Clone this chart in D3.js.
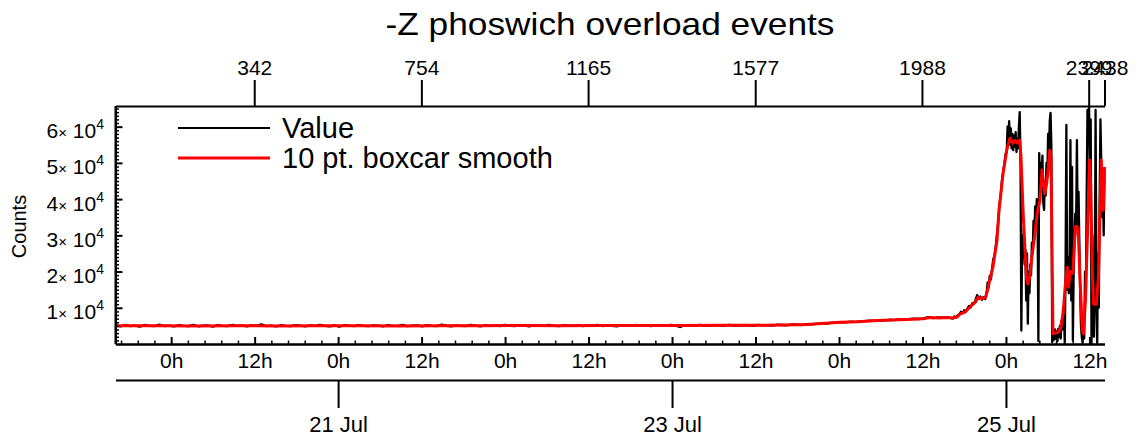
<!DOCTYPE html>
<html><head><meta charset="utf-8">
<script src="https://cdn.jsdelivr.net/npm/d3@7"></script>
<style>
body{margin:0;background:#fff}
svg{display:block}
text{font-family:"Liberation Sans",Arial,Helvetica,sans-serif;fill:#000}
</style>
</head><body><svg id="c" width="1137" height="440"></svg>
<script>
// ---------------- data ----------------
const title = "-Z phoswich overload events";
const yLabel = "Counts";
const legendLabels = ["Value", "10 pt. boxcar smooth"];
const seriesColors = ["#000000", "#ff0000"];
const lastIndex = 2438;
const startTime = "2023-07-19T16:00:00Z";
const endTime = "2023-07-25T14:10:00Z";
const topTickIndex = [342, 754, 1165, 1577, 1988, 2399, 2438];
const yTickValues = [10000, 20000, 30000, 40000, 50000, 60000];
const yMax = 65700;
const dateTicks = ["2023-07-21", "2023-07-23", "2023-07-25"];

// raw values, early part sampled every 12th index
const coarseStep = 12;
const coarseCounts = [
 5120,4880,5210,4960,5080,4790,5250,5010,4920,5340,4970,5100,
 4850,5180,5020,4940,5290,4900,5060,5150,4810,5200,5000,4930,
 5270,4980,5090,4860,5160,5030,5420,4950,5080,4890,5190,5010,
 4940,5230,5060,4870,5140,4990,5310,5020,4900,5110,4780,5180,
 5050,4960,5240,5000,4910,5170,5060,4850,5200,5030,4980,5290,
 4920,5080,5130,4870,5210,5010,4950,5360,5040,4900,5150,5020,
 4970,5250,5080,4890,5180,5000,5120,4930,5270,5040,4960,5140,
 5060,4880,5220,5110,4990,5300,5050,4940,5170,5080,5010,5230,
 4920,5140,5060,5280,4970,5110,5040,4890,5200,5090,5000,5250,
 5030,5150,4960,5220,5080,5010,5310,5060,4700,5180,5100,5020,
 5270,5090,4980,5200,5130,5040,5290,5110,5060,5230,5150,5020,
 5260,5140,5210,5100,5320,5240,5180,5390,5310,5250,5480,5400,
 5560,5700,5620,5850,5930,6050,5980,6150,6080,6260,6330,6450,
 6380,6560,6500,6690,6600,6780,6720,6850,6980,6900,7060,7400,
 7150,7320,7250,7380
];
// raw values, late part
const fineIdx = [
 2064,2068,2072,2076,2080,2084,2088,2092,2096,2100,2104,2108,2112,2116,2120,2124,2128,2132,2136,2140,
 2144,2148,2150,2152,2155,2158,2161,2164,2167,2170,2173,2176,2179,2182,2185,2188,2191,2194,2197,2199,
 2201,2203,2205,2207,2209,2211,2213,2215,2217,2219,2221,2223,2225,2227,2229,2231,2233,2235,2237,2239,
 2241,2243,2245,2247,2249,2251,2253,2255,2257,2259,2261,2263,2265,2267,2269,2271,2273,2275,2277,2279,
 2281,2283,2285,2287,2289,2291,2293,2295,2297,2299,2301,2303,2305,2307,2309,2312,2314,2316,2318,2320,
 2322,2324,2326,2328,2330,2332,2334,2336,2338,2340,2342,2344,2346,2348,2350,2352,2354,2356,2358,2360,
 2362,2364,2366,2368,2370,2372,2374,2376,2378,2380,2382,2384,2386,2388,2390,2392,2394,2396,2398,2400,
 2402,2404,2406,2408,2410,2412,2414,2416,2418,2420,2422,2424,2426,2428,2430,2432,2434,2436,2438
];
const fineCounts = [
 7000,7600,7300,7900,8200,8900,8500,9300,9000,9800,10500,10100,11300,11000,12200,13500,12600,13100,12200,13000,
 12400,14800,17000,15500,18800,17800,21000,23500,24500,27000,30500,33500,38500,41000,45000,47500,49500,52500,53000,60000,
 57000,61500,55000,59500,54000,58000,53500,57500,54500,58500,53000,56500,54000,60000,64000,50000,3700,30000,24000,32000,
 22000,26000,12000,25000,5600,20000,14000,22000,19000,28000,25000,34000,29000,38000,33000,40000,37000,800,52700,44000,
 50000,46000,52000,39000,37000,45000,41000,50000,46000,58000,52000,61500,63800,55000,500,2500,1200,4000,1500,3500,
 800,4200,2000,5000,1500,6500,4000,10000,8000,300,20000,60500,15000,24000,14000,22000,56300,12000,48900,1000,
 20000,30000,36000,33000,56300,30000,42000,28000,14000,5000,2000,300,8000,1500,20000,12000,40000,64600,55000,65500,
 45000,62000,200,30000,15000,2000,12000,64600,20000,300,25000,10000,40000,62000,50000,35000,45000,30000,48000
];
// 10 pt boxcar smooth
const smoothIdx = [
 0,100,200,300,400,500,600,700,800,900,1000,1100,1200,1300,1400,1500,1600,1650,1704,1750,
 1786,1830,1867,1910,1950,1990,2008,2030,2050,2064,2075,2082,2094,2101,2107,2114,2120,2126,2135,2145,
 2150,2155,2163,2168,2173,2178,2183,2188,2197,2205,2212,2218,2222,2229,2232,2234,2238,2242,2246,2249,
 2253,2259,2266,2272,2279,2284,2291,2295,2299,2303,2306,2311,2316,2323,2330,2336,2341,2346,2349,2354,
 2360,2366,2370,2373,2377,2383,2386,2391,2396,2401,2404,2408,2411,2418,2423,2430,2435,2438
];
const smoothCounts = [
 5050,5050,5000,5050,5000,5050,5050,5000,5050,5050,5100,5050,5100,5100,5100,5150,5150,5250,5400,5700,
 6000,6150,6450,6600,6750,6950,7300,7200,7300,7200,7500,8300,8800,9600,10200,11100,11600,12900,12500,12900,
 15000,17600,21200,25000,28600,37000,42000,47100,53500,56800,55400,56200,55500,56300,52000,46000,35000,25900,18000,16600,
 18000,24000,30000,36000,39700,48000,41500,44000,48000,53500,52000,2800,3000,3200,4500,8400,15700,21200,15700,20000,
 19500,32300,32500,32000,20000,4000,2800,12000,30000,50800,44000,20000,11000,11000,18500,50800,36900,48900
];

// ---------------- chart ----------------
const svg = d3.select("#c");
const L = 115.5, R = 1104.5, T = 106, B = 344;
const xIdx = d3.scaleLinear().domain([0, lastIndex]).range([L, R]);
const xTime = d3.scaleUtc().domain([new Date(startTime), new Date(endTime)]).range([L, R]);
const y = d3.scaleLinear().domain([0, yMax]).range([B, T]);

svg.append("defs").append("clipPath").attr("id", "clip")
  .append("rect").attr("x", L).attr("y", T).attr("width", R - L + 2).attr("height", B - T);

const raw = coarseCounts.map((v, i) => [i * coarseStep, v])
  .concat(fineIdx.map((d, i) => [d, fineCounts[i]]));
const smooth = smoothIdx.map((d, i) => [d, smoothCounts[i]]);
const line = d3.line().x(d => xIdx(d[0])).y(d => y(d[1]));

const plot = svg.append("g").attr("clip-path", "url(#clip)");
plot.append("path").datum(raw).attr("d", line)
  .attr("fill", "none").attr("stroke", seriesColors[0]).attr("stroke-width", 2.3).attr("stroke-linejoin", "round");
plot.append("path").datum(smooth).attr("d", line)
  .attr("fill", "none").attr("stroke", seriesColors[1]).attr("stroke-width", 3).attr("stroke-linejoin", "round");

function styleAxis(g, fs) {
  g.selectAll(".domain").attr("stroke", "#000").attr("stroke-width", 2);
  g.selectAll(".tick line").attr("stroke", "#000").attr("stroke-width", 2);
  g.selectAll("text").attr("font-size", fs).attr("font-family", '"Liberation Sans",Arial,sans-serif').attr("fill", "#000");
  g.attr("font-family", null);
}

// left axis (major + minor inward ticks)
const minorY = d3.range(1000, yMax, 1000).filter(v => v % 10000 !== 0);
const gyMinor = svg.append("g").attr("transform", `translate(${L},0)`)
  .call(d3.axisLeft(y).tickValues(minorY).tickSize(-3.5).tickSizeOuter(0).tickFormat(""));
styleAxis(gyMinor, 0);
gyMinor.selectAll(".tick line").attr("stroke-width", 1.5);
const gy = svg.append("g").attr("transform", `translate(${L},0)`)
  .call(d3.axisLeft(y).tickValues(yTickValues).tickSize(-7).tickSizeOuter(0).tickFormat(""));
styleAxis(gy, 0);
gy.selectAll(".domain").attr("d", `M0,${T}V${B}`);

// y tick labels  n× 10^4
const yl = svg.append("g");
yTickValues.forEach(v => {
  const exp = Math.floor(Math.log10(v));
  const mant = v / Math.pow(10, exp);
  const t = yl.append("text").attr("x", 104).attr("y", y(v) + 11.5).attr("text-anchor", "end");
  t.append("tspan").attr("font-size", 21).text(mant);
  t.append("tspan").attr("font-size", 15).text("×");
  t.append("tspan").attr("font-size", 21).text(" 10");
  t.append("tspan").attr("font-size", 14).attr("dy", -9).text(exp);
});

// bottom time axis
const minorX = d3.range(-4, 62).filter(k => k % 5 !== 0)
  .map(k => new Date(Date.UTC(2023, 6, 20) + k * 2.4 * 3600e3))
  .filter(d => d >= xTime.domain()[0] && d <= xTime.domain()[1]);
const gxMinor = svg.append("g").attr("transform", `translate(0,${B})`)
  .call(d3.axisBottom(xTime).tickValues(minorX).tickSize(-3.5).tickSizeOuter(0).tickFormat(""));
styleAxis(gxMinor, 0);
gxMinor.selectAll(".tick line").attr("stroke-width", 1.5);
const gx = svg.append("g").attr("transform", `translate(0,${B})`)
  .call(d3.axisBottom(xTime).ticks(d3.utcHour.every(12)).tickSize(-7).tickSizeOuter(0).tickPadding(9)
    .tickFormat(d => d.getUTCHours() + "h"));
styleAxis(gx, 21);

// date axis
const gd = svg.append("g").attr("transform", "translate(0,380)")
  .call(d3.axisBottom(xTime).tickValues(dateTicks.map(s => new Date(s + "T00:00:00Z")))
    .tickSize(28).tickSizeOuter(0).tickPadding(8).tickFormat(d3.utcFormat("%-d %b")));
styleAxis(gd, 22);

// top index axis
const gt = svg.append("g").attr("transform", `translate(0,${T})`)
  .call(d3.axisTop(xIdx).tickValues(topTickIndex).tickSize(26).tickSizeOuter(0).tickPadding(5)
    .tickFormat(d3.format("d")));
styleAxis(gt, 21);

// title + y label
svg.append("text").attr("x", (L + R) / 2).attr("y", 35).attr("text-anchor", "middle")
  .attr("font-size", 32).attr("textLength", 449).attr("lengthAdjust", "spacingAndGlyphs").text(title);
svg.append("text").attr("transform", "translate(26,226.5) rotate(-90)").attr("text-anchor", "middle")
  .attr("font-size", 20).text(yLabel);

// legend
legendLabels.forEach((lab, i) => {
  const ly = 128 + i * 30;
  svg.append("line").attr("x1", 178).attr("x2", 270).attr("y1", ly).attr("y2", ly)
    .attr("stroke", seriesColors[i]).attr("stroke-width", i ? 3 : 2.2);
  svg.append("text").attr("x", 282).attr("y", ly + 10).attr("font-size", 29).text(lab);
});
</script>
</body></html>
